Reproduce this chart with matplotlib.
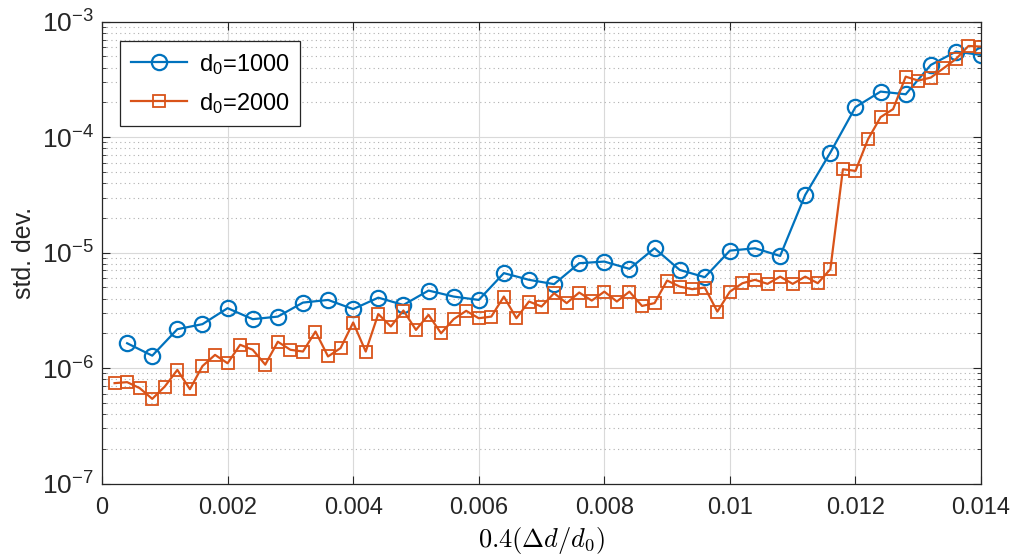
import numpy as np
import matplotlib
matplotlib.use('Agg')
import matplotlib.pyplot as plt
from matplotlib.ticker import LogLocator, NullFormatter, FuncFormatter

# data
x1 = np.arange(1, 36) * 0.0004
d1000 = [1.64e-6, 1.28e-6, 2.17e-6, 2.40e-6, 3.30e-6, 2.65e-6, 2.79e-6, 3.69e-6, 3.89e-6, 3.24e-6,
         4.07e-6, 3.52e-6, 4.69e-6, 4.16e-6, 3.89e-6, 6.64e-6, 5.81e-6, 5.33e-6, 8.09e-6, 8.36e-6,
         7.23e-6, 1.09e-5, 7.08e-6, 6.12e-6, 1.04e-5, 1.09e-5, 9.35e-6, 3.16e-5, 7.35e-5, 1.82e-4,
         2.48e-4, 2.35e-4, 4.22e-4, 5.50e-4, 5.15e-4]

x2 = np.arange(1, 71) * 0.0002
d2000 = [7.40e-7, 7.55e-7, 6.70e-7, 5.41e-7, 6.92e-7, 9.64e-7, 6.56e-7, 1.04e-6, 1.30e-6, 1.10e-6,
         1.59e-6, 1.44e-6, 1.07e-6, 1.69e-6, 1.44e-6, 1.39e-6, 2.07e-6, 1.26e-6, 1.49e-6, 2.48e-6,
         1.39e-6, 2.94e-6, 2.29e-6, 3.15e-6, 2.14e-6, 2.89e-6, 2.00e-6, 2.65e-6, 3.13e-6, 2.70e-6,
         2.79e-6, 4.16e-6, 2.70e-6, 3.77e-6, 3.41e-6, 4.45e-6, 3.65e-6, 4.51e-6, 3.84e-6, 4.59e-6,
         3.77e-6, 4.59e-6, 3.45e-6, 3.65e-6, 5.73e-6, 5.08e-6, 4.82e-6, 4.98e-6, 3.08e-6, 4.59e-6,
         5.43e-6, 5.81e-6, 5.36e-6, 6.19e-6, 5.36e-6, 6.19e-6, 5.43e-6, 7.18e-6, 5.27e-5, 5.10e-5,
         9.59e-5, 1.49e-4, 1.75e-4, 3.34e-4, 3.09e-4, 3.28e-4, 3.94e-4, 4.75e-4, 6.16e-4, 6.08e-4]

labels = ['d$_0$=1000', 'd$_0$=2000']
xticks = [0, 0.002, 0.004, 0.006, 0.008, 0.01, 0.012, 0.014]

plt.rcParams['font.family'] = ['Liberation Sans', 'DejaVu Sans']
plt.rcParams['mathtext.fontset'] = 'custom'
plt.rcParams['mathtext.rm'] = 'Liberation Sans'
plt.rcParams['mathtext.it'] = 'Liberation Sans:italic'

fig = plt.figure(figsize=(10.16, 5.6), dpi=100)
ax = fig.add_axes([0.1004, 0.1366, 0.8652, 0.8247])

ax.plot(x1, d1000, '-o', color='#0072BD', lw=1.6, ms=11, mfc='none', mew=1.6, label=labels[0])
ax.plot(x2, d2000, '-s', color='#D95319', lw=1.6, ms=8.5, mfc='none', mew=1.3, label=labels[1])

ax.set_yscale('log')
ax.set_xlim(0, 0.014)
ax.set_ylim(1e-7, 1e-3)
ax.set_xticks(xticks)
ax.xaxis.set_major_formatter(FuncFormatter(lambda v, p: '%g' % v))
ax.yaxis.set_major_locator(LogLocator(base=10, numticks=10))
ax.yaxis.set_minor_locator(LogLocator(base=10, subs=np.arange(2, 10), numticks=20))
ax.yaxis.set_minor_formatter(NullFormatter())

ax.grid(True, which='major', color='#d9d9d9', lw=0.8)
ax.grid(True, which='minor', axis='y', color='#b0b0b0', lw=0.8, ls=(0, (1, 3)))
ax.set_axisbelow(True)

ax.tick_params(which='both', direction='in', top=True, right=True, color='#262626')
ax.tick_params(which='major', length=6, labelcolor='#262626')
ax.tick_params(which='minor', length=3)
ax.tick_params(axis='x', labelsize=17, pad=10)
ax.tick_params(axis='y', labelsize=19, pad=6)
for s in ax.spines.values():
    s.set_color('#262626')
    s.set_linewidth(0.9)

ax.set_ylabel('std. dev.', fontsize=18, color='#262626', labelpad=4)
ax.set_xlabel(r'$0.4(\Delta d/d_0)$', fontsize=19, math_fontfamily='cm', labelpad=4)

leg = ax.legend(loc='upper left', bbox_to_anchor=(0.0205, 0.958), borderaxespad=0, fontsize=17,
                fancybox=False, edgecolor='#262626', framealpha=1, handlelength=2.4,
                borderpad=0.45, labelspacing=0.6, handletextpad=0.5)
leg.get_frame().set_linewidth(0.9)

fig.savefig('out.png', dpi=100)
